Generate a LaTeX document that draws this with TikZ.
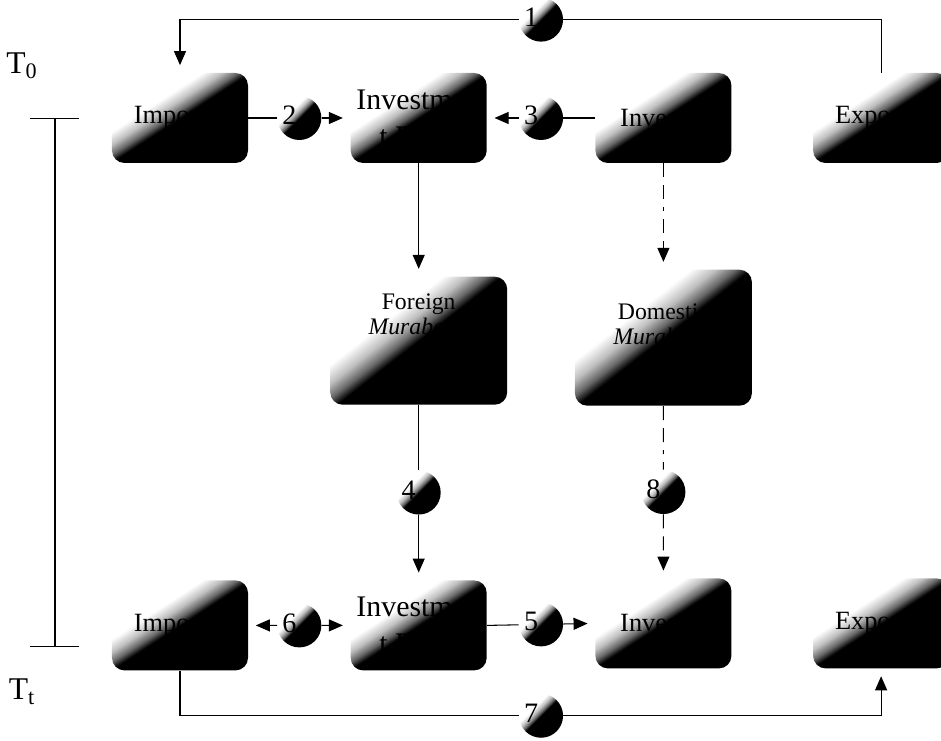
\documentclass[tikz,border=0pt]{standalone}
\usepackage{fontspec}
\setmainfont{Liberation Serif}
\usetikzlibrary{arrows.meta,positioning,calc}
\pgfdeclareverticalshading{halfdark}{100bp}{color(0bp)=(black); color(50bp)=(black); color(53bp)=(black!60); color(57bp)=(black!25); color(62bp)=(white); color(100bp)=(white)}

\begin{document}
\begin{tikzpicture}[node distance=2cm]
\tikzset{party/.style={shading=halfdark,shading angle=33,rounded corners=2.5mm,align=center,minimum width=2.72cm,minimum height=1.8cm,inner sep=1pt,font=\fontsize{15}{18}\selectfont},
 murabaha/.style={party,shading angle=38,minimum width=3.54cm},
 mtxt/.style={font=\fontsize{13.5}{14.5}\selectfont,align=center,anchor=north,inner sep=0pt},
 numdisc/.style={circle,shading=halfdark,shading angle=45,minimum size=8.8mm,inner sep=0pt},
 numtxt/.style={font=\fontsize{16}{16}\selectfont,xshift=-2mm,yshift=0.5mm},
 link/.style={semithick},
 arr/.style={semithick,shorten >=1.5mm,-{Triangle[length=2.8mm,width=2.4mm]}},
 dashdot/.style={dash pattern=on 2.8mm off 1.6mm on 2.8mm off 1.6mm on 0.8mm off 1.6mm}}
\useasboundingbox (-3.6,2.36) rectangle (15.22,-12.46);
\node[party] (impA) {Importer};
\node[party,right=2.04cm of impA,font=\fontsize{17}{21}\selectfont] (bankA) {Investmen\\t Bank};
\node[party,right=2.16cm of bankA] (invA) {Investor};
\node[party,right=1.62cm of invA] (expA) {Exporter};
\node[murabaha,below=2.26cm of bankA,minimum height=2.56cm,label={[mtxt,yshift=-3.4mm]north:Foreign\\\textit{Murabaha}}] (forM) {};
\node[murabaha,below=2.12cm of invA,minimum height=2.72cm,label={[mtxt,yshift=-6.8mm]north:Domestic\\\textit{Murabaha}}] (domM) {};
\node[party,below=3.5cm of forM,font=\fontsize{17}{21}\selectfont] (bankB) {Investmen\\t Bank};
\node[party,left=2.04cm of bankB] (impB) {Importer};
\node[party,below=3.44cm of domM] (invB) {Investor};
\node[party,right=1.62cm of invB] (expB) {Exporter};
\node[numdisc,label={[numtxt]center:1}] (n1) at ($(bankA.north)!0.5!(invA.north)+(0,1.06)$) {};
\node[numdisc,label={[numtxt]center:2}] (n2) at ($(impA.east)!0.5!(bankA.west)$) {};
\node[numdisc,label={[numtxt]center:3}] (n3) at ($(bankA.east)!0.5!(invA.west)$) {};
\node[numdisc,label={[numtxt]center:4}] (n4) at ($(forM.south)!0.5!(bankB.north)$) {};
\node[numdisc,label={[numtxt]center:8}] (n8) at ($(domM.south)!0.5!(invB.north)$) {};
\node[numdisc,label={[numtxt]center:6}] (n6) at ($(impB.east)!0.5!(bankB.west)$) {};
\node[numdisc,label={[numtxt]center:5}] (n5) at ($(bankB.east)!0.5!(invB.west)$) {};
\node[numdisc,label={[numtxt]center:7}] (n7) at ($(bankB.south)!0.5!(invB.south)+(0,-0.92)$) {};
\node[font=\fontsize{18}{18}\selectfont] (tzero) at (-3.16,1.04) {T\textsubscript{0}};
\node[font=\fontsize{18}{18}\selectfont] (tend) at (-3.16,-11.48) {T\textsubscript{t}};
\coordinate (ttop) at (-2.5,0); \coordinate (tbot) at (-2.5,-10.58);
\draw[semithick,{Bar[width=9.8mm]}-{Bar[width=9.8mm]}] (ttop)--(tbot);
\draw[link] (expA.north) |- (n1); \draw[arr] (n1) -| (impA.north);
\draw[link] (impA.east)--(n2); \draw[arr] (n2)--(bankA.west);
\draw[link] (invA.west)--(n3); \draw[arr] (n3)--(bankA.east);
\draw[arr] (bankA.south)--(forM.north);
\draw[arr,dashdot] (invA.south)--(domM.north);
\draw[link] (forM.south)--(n4); \draw[arr] (n4)--(bankB.north);
\draw[link,dashdot] (domM.south)--(n8); \draw[arr,dashdot] (n8)--(invB.north);
\draw[arr] (n6)--(impB.east); \draw[arr] (n6)--(bankB.west);
\draw[link] (bankB.east)--(n5); \draw[arr] (n5)--(invB.west);
\draw[link] (impB.south) |- (n7); \draw[arr] (n7) -| (expB.south);
\end{tikzpicture}
\end{document}
